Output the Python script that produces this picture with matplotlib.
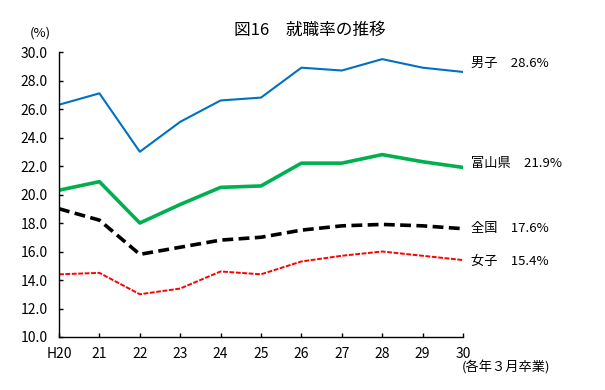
import matplotlib
matplotlib.use("Agg")
import matplotlib.pyplot as plt

plt.rcParams['font.family'] = ['Noto Sans CJK JP', 'DejaVu Sans']

years = ["H20", "21", "22", "23", "24", "25", "26", "27", "28", "29", "30"]
male = [26.3, 27.1, 23.0, 25.1, 26.6, 26.8, 28.9, 28.7, 29.5, 28.9, 28.6]
toyama = [20.3, 20.9, 18.0, 19.3, 20.5, 20.6, 22.2, 22.2, 22.8, 22.3, 21.9]
national = [19.0, 18.2, 15.8, 16.3, 16.8, 17.0, 17.5, 17.8, 17.9, 17.8, 17.6]
female = [14.4, 14.5, 13.0, 13.4, 14.6, 14.4, 15.3, 15.7, 16.0, 15.7, 15.4]

yticks = [10.0, 12.0, 14.0, 16.0, 18.0, 20.0, 22.0, 24.0, 26.0, 28.0, 30.0]

fig = plt.figure(figsize=(6.05, 3.9), dpi=100)
ax = fig.add_axes([59 / 605, 1 - 337 / 390, (463 - 59) / 605, (337 - 52) / 390])

x = list(range(len(years)))
ax.plot(x, male, color="#0070C0", lw=1.5)
ax.plot(x, toyama, color="#00B050", lw=2.6)
ax.plot(x, national, color="black", lw=2.6, dashes=(3, 1.5))
ax.plot(x, female, color="#FF0000", lw=1.4, dashes=(2.5, 0.8))

ax.set_xlim(0, len(years) - 1)
ax.set_ylim(10, 30)
ax.set_xticks(x)
ax.set_xticklabels(years)
ax.set_yticks(yticks)
ax.set_yticklabels([f"{v:.1f}" for v in yticks])
ax.tick_params(direction="in", length=3, width=1, labelsize=10, colors="black")
ax.tick_params(axis="x", pad=7)
ax.tick_params(axis="y", pad=8)
for s in ["top", "right"]:
    ax.spines[s].set_visible(False)
for s in ["left", "bottom"]:
    ax.spines[s].set_linewidth(1)

# end labels
labels = [("男子　28.6%", male[-1] + 0.6), ("富山県　21.9%", toyama[-1] + 0.3),
          ("全国　17.6%", national[-1]), ("女子　15.4%", female[-1] - 0.1)]
for txt, yv in labels:
    ax.text(len(years) - 1 + 0.2, yv, txt, fontsize=9.5, va="center", ha="left",
            clip_on=False)

fig.text(310 / 605, 1 - 30 / 390, "図16　就職率の推移", fontsize=12, ha="center", va="center")
fig.text(40 / 605, 1 - 33 / 390, "(%)", fontsize=9.5, ha="center", va="center")
fig.text(506 / 605, 1 - 368 / 390, "(各年３月卒業)", fontsize=9.5, ha="center", va="center")

fig.savefig("out.png", dpi=100)
